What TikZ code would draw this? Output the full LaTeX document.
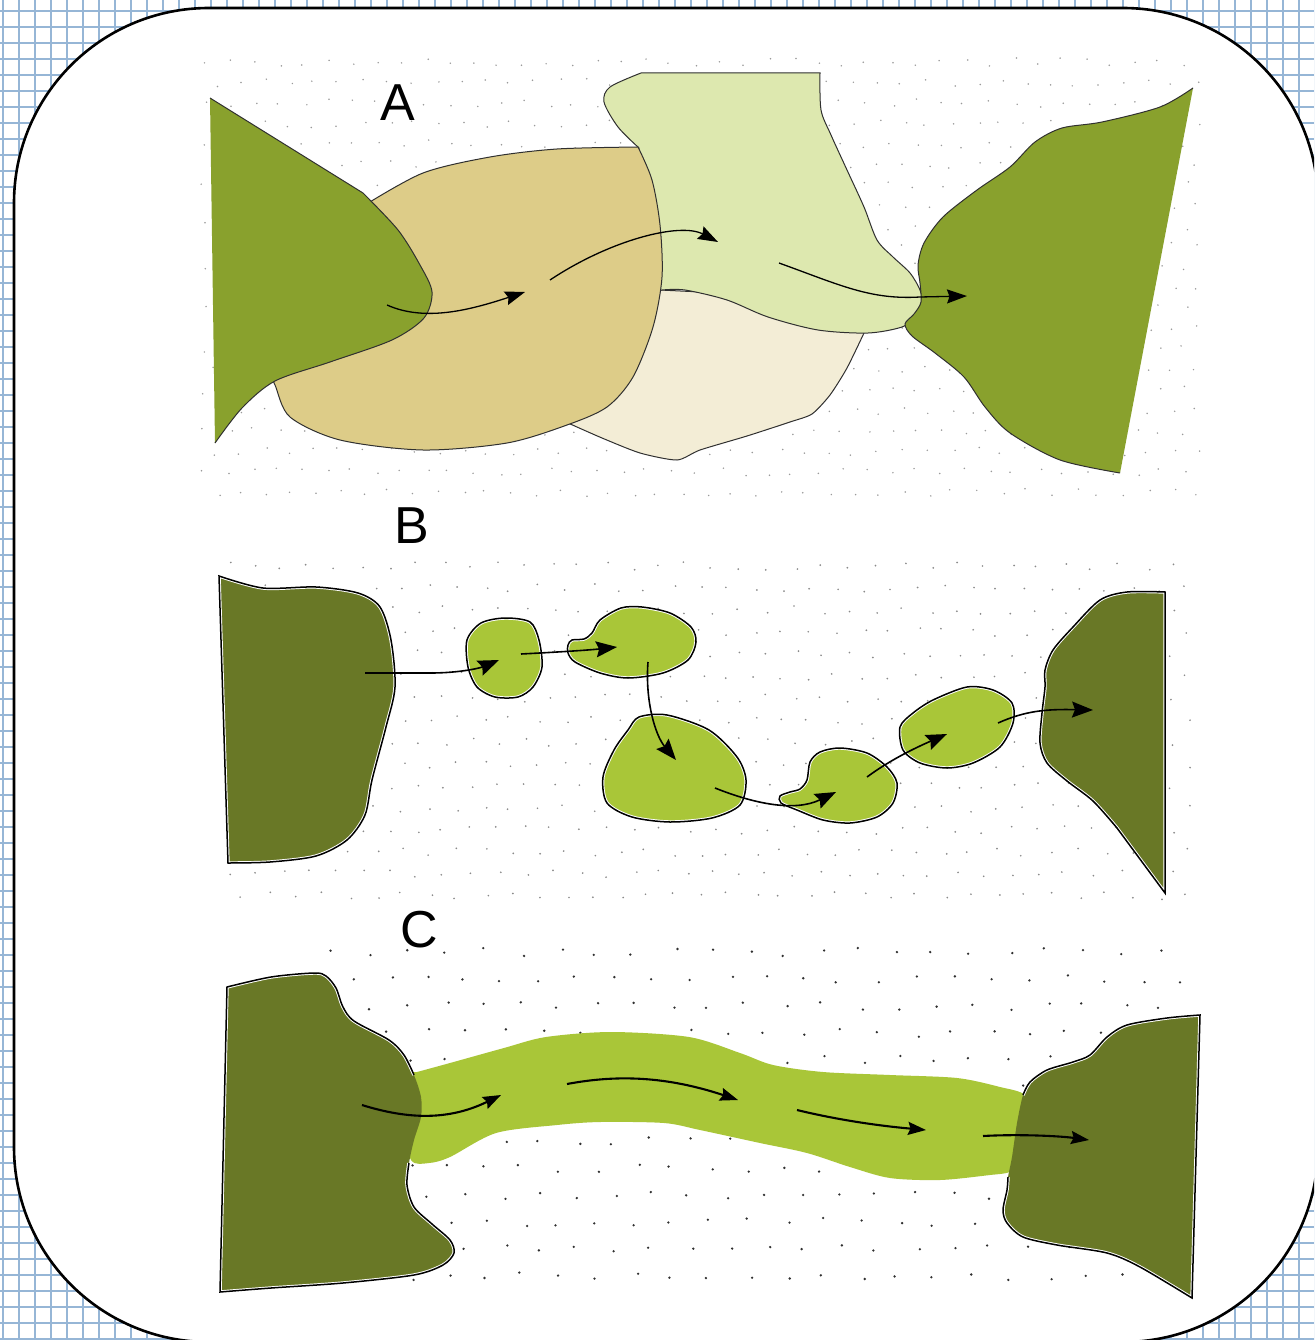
\documentclass[tikz,border=0pt]{standalone}
\usepackage{fontspec}
\setmainfont{Liberation Sans}
\usetikzlibrary{arrows.meta}
\definecolor{gridc}{HTML}{96B6D6}
\definecolor{gA}{HTML}{89A12D}
\definecolor{tanA}{HTML}{DDCC88}
\definecolor{lgA}{HTML}{DDE8AF}
\definecolor{beA}{HTML}{F3EDD6}
\definecolor{olv}{HTML}{697826}
\definecolor{lgB}{HTML}{A9C638}
\definecolor{edgeA}{HTML}{303030}
\definecolor{dotA}{HTML}{9A9A9A}
\definecolor{dotB}{HTML}{8A8A8A}
\definecolor{dotC}{HTML}{303030}
\newcommand\olshapeC[2]{%
  \fill[#1] #2;
  \begin{scope}\clip #2; \draw[white,line width=3.4pt] #2;\end{scope}
  \draw[black,line width=1.5pt] #2;
}
\newcommand\olshapeO[3]{%
  \fill[#1] #2;
  \begin{scope}\clip #2; \draw[white,line width=3.4pt] #3;\end{scope}
  \draw[black,line width=1.5pt] #3;
}
\tikzset{
  lbl/.style={font=\fontsize{52}{52}\selectfont, inner sep=0pt},
  arrA/.style={-{Stealth[length=20pt,width=14pt,inset=2.5pt]}, line width=1.3pt},
  arrB/.style={-{Stealth[length=21pt,width=16pt,inset=3pt]}, line width=1.6pt},
  arrC/.style={-{Stealth[length=18pt,width=13pt,inset=2.5pt]}, line width=2.1pt},
  edgeline/.style={draw=edgeA, line width=1pt},
}
\begin{document}
\begin{tikzpicture}[x=1pt,y=-1pt]
\useasboundingbox (0,0) rectangle (1314,1340);
\clip (0,0) rectangle (1314,1340);
% grid background
\foreach \x in {3,19,...,1315} \draw[gridc, line width=2pt] (\x,0) -- (\x,1340);
\foreach \y in {11,27,...,1340} \draw[gridc, line width=2pt] (0,\y) -- (1314,\y);
% frame
\draw[line width=2.6pt, fill=white, rounded corners=195pt] (14,8) rectangle (1318,1342);
% dots
\pgfmathsetseed{7}
\foreach \r in {0,...,21} {\foreach \c in {0,...,40} {
  \pgfmathsetmacro\xx{205+\c*24.5+mod(\r,2)*12+rand*4}
  \pgfmathsetmacro\yy{62+\r*20.5+rand*4}
  \fill[dotA] (\xx,\yy) circle[radius=0.85pt];}}
\foreach \r in {0,...,15} {\foreach \c in {0,...,35} {
  \pgfmathsetmacro\xx{228+\c*27+mod(\r,2)*13.5+rand*4}
  \pgfmathsetmacro\yy{566+\r*22+rand*4}
  \fill[dotB] (\xx,\yy) circle[radius=0.95pt];}}
\foreach \r in {0,...,12} {\foreach \c in {0,...,22} {
  \pgfmathsetmacro\xx{335+\c*37.5+mod(\r,2)*18+rand*5}
  \pgfmathsetmacro\yy{952+\r*27+rand*4}
  \fill[dotC] (\xx,\yy) circle[radius=1.3pt];}}

% ===== A =====
\filldraw[fill=beA, edgeline] plot[smooth, tension=0.4] coordinates {(568,423) (602,438) (640,453) (677,460) (700,450) (747,436) (790,422) (812,414) (830,395) (847,368) (864,333)} -- (864,300) -- (660,290) -- (600,390) -- cycle;
\filldraw[fill=lgA, edgeline] (641,73) -- (820,73) -- plot[smooth] coordinates {(820,73) (821,110) (831,135) (847,170) (864,207) (877,240) (893,257) (910,273) (920,290) (922,303) (916,317) (902,327) (868,333) (818,330) (768,317) (727,300) (685,290) (662,290)} -- (640,290) -- (630,200) -- plot[smooth] coordinates {(639,148) (618,127) (604,102) (610,87) (641,73)} -- cycle;
\filldraw[fill=tanA, edgeline] plot[smooth] coordinates {(365,205) (423,173) (490,157) (557,149) (638,147)} -- plot[smooth] coordinates {(638,147) (652,180) (660,225) (662,277) (653,327) (633,377) (607,407) (567,425) (507,443) (423,450) (340,440) (290,417) (275,385) (268,370)} -- (330,300) -- cycle;
\fill[gA] (210,98) -- (363,193) -- plot[smooth] coordinates {(363,193) (398,230) (420,265) (432,292) (424,318) (392,340) (330,362) (275,381) (242,408) (215,443)} -- cycle;
\draw[edgeline] (210,98) -- (363,193) -- plot[smooth] coordinates {(363,193) (398,230) (420,265) (432,292) (424,318) (392,340) (330,362) (275,381) (242,408) (215,443)};
\fill[gA] (1193,88) -- (1120,473) -- plot[smooth] coordinates {(1120,473) (1060,460) (1010,433) (985,407) (964,377) (935,353) (912,336) (905,324) (914,314) (921,302) (920,283) (918,265) (924,243) (943,217) (977,190) (1010,167) (1035,142) (1062,128) (1102,122) (1160,107) (1193,88)} -- cycle;
\draw[edgeline] plot[smooth] coordinates {(1120,473) (1060,460) (1010,433) (985,407) (964,377) (935,353) (912,336) (905,324) (914,314) (921,302) (920,283) (918,265) (924,243) (943,217) (977,190) (1010,167) (1035,142) (1062,128) (1102,122) (1160,107) (1193,88)};
\coordinate (a1s) at (387,305); \coordinate (a1e) at (525,292);
\coordinate (a2s) at (550,280); \coordinate (a2e) at (718,242);
\coordinate (a3s) at (779,263); \coordinate (a3m) at (920,297); \coordinate (a3e) at (967,296);
\draw[arrA] (a1s) .. controls (425,322) and (470,310) .. (a1e);
\draw[arrA] (a2s) .. controls (610,240) and (680,222) .. (a2e);
\draw[arrA] (a3s) .. controls (840,285) and (870,300) .. (a3m) -- (a3e);
\node[lbl] (labA) at (398,103) {A};

% ===== B =====
\olshapeC{olv}{(219,576) -- plot[smooth] coordinates {(219,576) (263,588) (316,587) (358,593) (380,607) (391,640) (395,687) (386,727) (372,780) (365,815) (347,840) (316,856) (270,862) (228,863)} -- cycle}
\olshapeC{lgB}{plot[smooth cycle] coordinates {(467,640) (481,623) (505,618) (530,622) (539,640) (542,667) (533,687) (518,697) (495,697) (477,687) (468,667)}}
\olshapeC{lgB}{plot[smooth cycle] coordinates {(568,645) (572,640) (584,639) (592,633) (600,620) (621,608) (642,607) (670,613) (691,627) (696,642) (688,660) (663,673) (628,678) (600,673) (575,662) (568,653)}}
\olshapeC{lgB}{plot[smooth cycle] coordinates {(628,730) (639,717) (667,715) (709,730) (737,757) (746,780) (740,805) (712,818) (670,822) (632,817) (607,803) (603,777) (614,750)}}
\olshapeC{lgB}{plot[smooth cycle] coordinates {(780,796) (790,792) (800,789) (807,780) (810,762) (820,752) (840,748) (867,753) (887,767) (897,783) (893,803) (877,817) (850,823) (823,820) (797,810) (781,803)}}
\olshapeC{lgB}{plot[smooth cycle] coordinates {(900,727) (913,713) (933,700) (967,687) (993,690) (1012,703) (1013,723) (1000,747) (973,763) (947,768) (920,763) (903,750)}}
\olshapeC{olv}{(1165,592) -- (1165,893) -- plot[smooth] coordinates {(1117,828) (1093,801) (1067,781) (1047,763) (1040,743) (1042,713) (1045,687) (1045,670) (1053,650) (1073,627) (1100,600) (1127,592) (1165,592)} -- cycle}
\coordinate (b1s) at (365,673); \coordinate (b1m) at (430,673); \coordinate (b1e) at (499,660);
\coordinate (b2s) at (521,654); \coordinate (b2e) at (617,647);
\coordinate (b3s) at (648,662); \coordinate (b3e) at (676,760);
\coordinate (b4s) at (715,788); \coordinate (b4e) at (836,792);
\coordinate (b5s) at (867,777); \coordinate (b5e) at (947,734);
\coordinate (b6s) at (998,723); \coordinate (b6e) at (1093,710);
\draw[arrB] (b1s) -- (b1m) .. controls (460,673) and (480,668) .. (b1e);
\draw[arrB] (b2s) .. controls (560,652) and (590,650) .. (b2e);
\draw[arrB] (b3s) .. controls (645,700) and (655,735) .. (b3e);
\draw[arrB] (b4s) .. controls (755,804) and (795,812) .. (b4e);
\draw[arrB] (b5s) .. controls (890,760) and (915,748) .. (b5e);
\draw[arrB] (b6s) .. controls (1025,711) and (1045,709) .. (b6e);
\node[lbl] (labB) at (412,526) {B};

% ===== C =====
\fill[lgB] plot[smooth cycle, tension=0.5] coordinates {(405,1075) (417,1072) (450,1063) (504,1048) (546,1037) (611,1032) (689,1037) (740,1053) (773,1065) (823,1072) (890,1075) (957,1078) (1000,1087) (1025,1095) (1040,1120) (1035,1160) (1010,1172) (990,1175) (940,1180) (890,1178) (850,1167) (807,1153) (760,1143) (700,1130) (664,1123) (600,1122) (557,1125) (496,1133) (450,1157) (429,1163) (411,1160) (402,1120)};
\olshapeO{olv}{(227,987) -- plot[smooth] coordinates {(227,987) (271,977) (314,973) (326,976) (336,988) (343,1007) (354,1021) (389,1040) (404,1055) (414,1075) (421,1097) (421,1117) (414,1140) (409,1163) (407,1185) (414,1207) (432,1224) (450,1240) (454,1253) (443,1265) (414,1275) (343,1283) (271,1288) (220,1292)} -- cycle}{plot[smooth] coordinates {(409,1163) (407,1185) (414,1207) (432,1224) (450,1240) (454,1253) (443,1265) (414,1275) (343,1283) (271,1288) (220,1292)} -- (227,987) -- plot[smooth] coordinates {(227,987) (271,977) (314,973) (326,976) (336,988) (343,1007) (354,1021) (389,1040) (404,1055) (414,1075)}}
\olshapeO{olv}{(1200,1015) -- (1192,1298) -- plot[smooth] coordinates {(1192,1298) (1140,1267) (1107,1253) (1057,1245) (1023,1237) (1007,1223) (1003,1210) (1007,1190) (1008,1177) (1012,1157) (1017,1123) (1023,1095) (1030,1082) (1047,1070) (1073,1062) (1090,1055) (1107,1037) (1127,1025) (1167,1018) (1200,1015)} -- cycle}{plot[smooth] coordinates {(1023,1095) (1030,1082) (1047,1070) (1073,1062) (1090,1055) (1107,1037) (1127,1025) (1167,1018) (1200,1015)} -- (1192,1298) -- plot[smooth] coordinates {(1192,1298) (1140,1267) (1107,1253) (1057,1245) (1023,1237) (1007,1223) (1003,1210) (1007,1190) (1008,1177)}}
\coordinate (c1s) at (362,1105); \coordinate (c1e) at (501,1095);
\coordinate (c2s) at (567,1084); \coordinate (c2e) at (738,1100);
\coordinate (c3s) at (797,1110); \coordinate (c3e) at (926,1130);
\coordinate (c4s) at (983,1136); \coordinate (c4e) at (1089,1140);
\draw[arrC] (c1s) .. controls (410,1120) and (450,1120) .. (c1e);
\draw[arrC] (c2s) .. controls (610,1076) and (660,1074) .. (c2e);
\draw[arrC] (c3s) .. controls (830,1118) and (870,1125) .. (c3e);
\draw[arrC] (c4s) .. controls (1020,1134) and (1060,1136) .. (c4e);
\node[lbl] (labC) at (419,930) {C};
\end{tikzpicture}
\end{document}
